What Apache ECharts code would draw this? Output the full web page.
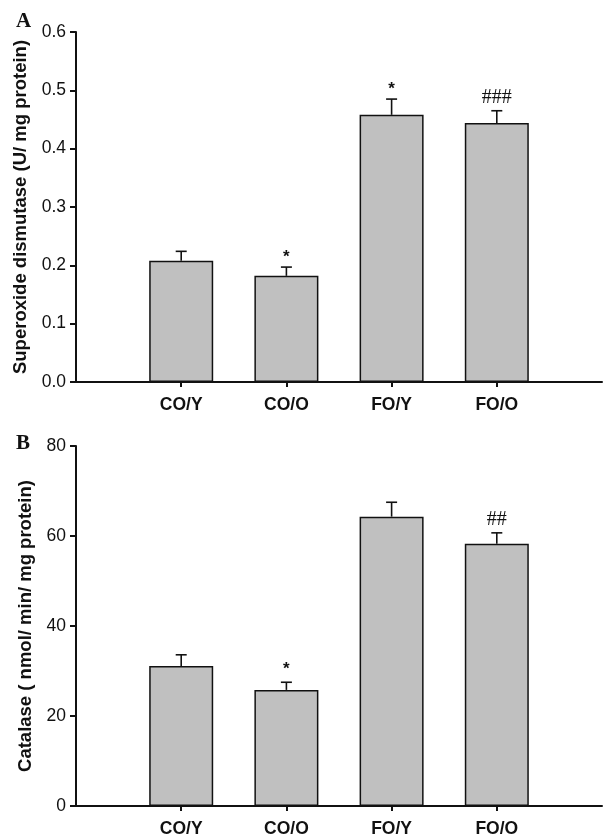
<!DOCTYPE html>
<html>
<head>
<meta charset="utf-8">
<script src="https://cdn.jsdelivr.net/npm/echarts@6/dist/echarts.min.js"></script>
<style>
html,body{margin:0;padding:0;background:#fff;}
#c{width:605px;height:838px;}
</style>
</head>
<body>
<div id="c"></div>
<script>
const categories = ['CO/Y', 'CO/O', 'FO/Y', 'FO/O'];
const sodMean = [0.208, 0.182, 0.458, 0.444];
const sodErr = [0.016, 0.015, 0.027, 0.021];
const sodMarks = ['', '*', '*', '###'];
const catMean = [31.1, 25.8, 64.3, 58.3];
const catErr = [2.5, 1.7, 3.2, 2.4];
const catMarks = ['', '*', '', '##'];
const sodTicks = {min: 0, max: 0.6, interval: 0.1};
const catTicks = {min: 0, max: 80, interval: 20};

const axisCats = [''].concat(categories, ['']);
const pad = arr => [null].concat(arr, [null]);
const errData = (m, e) => m.map((v, i) => [i + 1, v, e[i]]);

const ink = '#111';
const sans = 'Liberation Sans, Arial, sans-serif';

function makeErrRender(marks, starGap) {
  return function (params, api) {
    const idx = api.value(0), m = api.value(1), e = api.value(2);
    const mark = marks[params.dataIndex] || '';
    const base = api.coord([idx, m]);
    const top = api.coord([idx, m + e]);
    const cap = 5.5;
    const children = [
      {type: 'line', shape: {x1: base[0], y1: base[1], x2: top[0], y2: top[1]}, style: {stroke: ink, lineWidth: 1.6}},
      {type: 'line', shape: {x1: top[0] - cap, y1: top[1], x2: top[0] + cap, y2: top[1]}, style: {stroke: ink, lineWidth: 1.6}}
    ];
    if (mark) {
      const isStar = mark.charAt(0) === '*';
      children.push({
        type: 'text',
        x: top[0],
        y: top[1] - (isStar ? starGap : 13),
        style: {
          text: mark,
          align: 'center',
          verticalAlign: 'middle',
          fill: ink,
          font: isStar ? 'bold 17px Liberation Sans, Arial, sans-serif' : '20px Liberation Serif, serif'
        }
      });
    }
    return {type: 'group', children: children};
  };
}

function xAxisCfg(gi) {
  return {
    type: 'category', gridIndex: gi, data: axisCats, boundaryGap: false,
    axisLine: {lineStyle: {color: ink, width: 2}},
    axisTick: {length: 5, lineStyle: {color: ink, width: 2}, interval: (i) => i > 0 && i < axisCats.length - 1},
    axisLabel: {color: ink, fontFamily: sans, fontWeight: 'bold', fontSize: 17.5, margin: 14, interval: 0},
    splitLine: {show: false}
  };
}
function yAxisCfg(gi, t, name, fmt) {
  return {
    type: 'value', gridIndex: gi, min: t.min, max: t.max, interval: t.interval,
    name: name, nameLocation: 'middle', nameGap: 41,
    nameTextStyle: {color: ink, fontFamily: sans, fontWeight: 'bold', fontSize: 18.5},
    axisLine: {show: true, lineStyle: {color: ink, width: 2}},
    axisTick: {show: true, length: 6, lineStyle: {color: ink, width: 2}},
    axisLabel: {color: ink, fontFamily: sans, fontSize: 17.5, margin: 10, formatter: fmt},
    splitLine: {show: false}
  };
}

const chart = echarts.init(document.getElementById('c'), null, {renderer: 'canvas'});
chart.setOption({
  animation: false,
  backgroundColor: '#fff',
  graphic: [
    {type: 'text', left: 16, top: 11, style: {text: 'A', font: 'bold 21px Liberation Serif, serif', fill: ink}},
    {type: 'text', left: 16, top: 433, style: {text: 'B', font: 'bold 21px Liberation Serif, serif', fill: ink}}
  ],
  grid: [
    {left: 76, top: 32, width: 530, height: 350},
    {left: 76, top: 446, width: 530, height: 361}
  ],
  xAxis: [xAxisCfg(0), xAxisCfg(1)],
  yAxis: [
    yAxisCfg(0, sodTicks, 'Superoxide dismutase (U/ mg protein)', v => v.toFixed(1)),
    yAxisCfg(1, catTicks, 'Catalase ( nmol/ min/ mg protein)', v => String(v))
  ],
  series: [
    {type: 'bar', xAxisIndex: 0, yAxisIndex: 0, data: pad(sodMean), barWidth: 64,
     itemStyle: {color: '#c0c0c0', borderColor: ink, borderWidth: 1.5}},
    {type: 'custom', xAxisIndex: 0, yAxisIndex: 0, data: errData(sodMean, sodErr),
     renderItem: makeErrRender(sodMarks, 10), encode: {x: 0, y: 1}, z: 5},
    {type: 'bar', xAxisIndex: 1, yAxisIndex: 1, data: pad(catMean), barWidth: 64,
     itemStyle: {color: '#c0c0c0', borderColor: ink, borderWidth: 1.5}},
    {type: 'custom', xAxisIndex: 1, yAxisIndex: 1, data: errData(catMean, catErr),
     renderItem: makeErrRender(catMarks, 13), encode: {x: 0, y: 1}, z: 5}
  ]
});
</script>
</body>
</html>
